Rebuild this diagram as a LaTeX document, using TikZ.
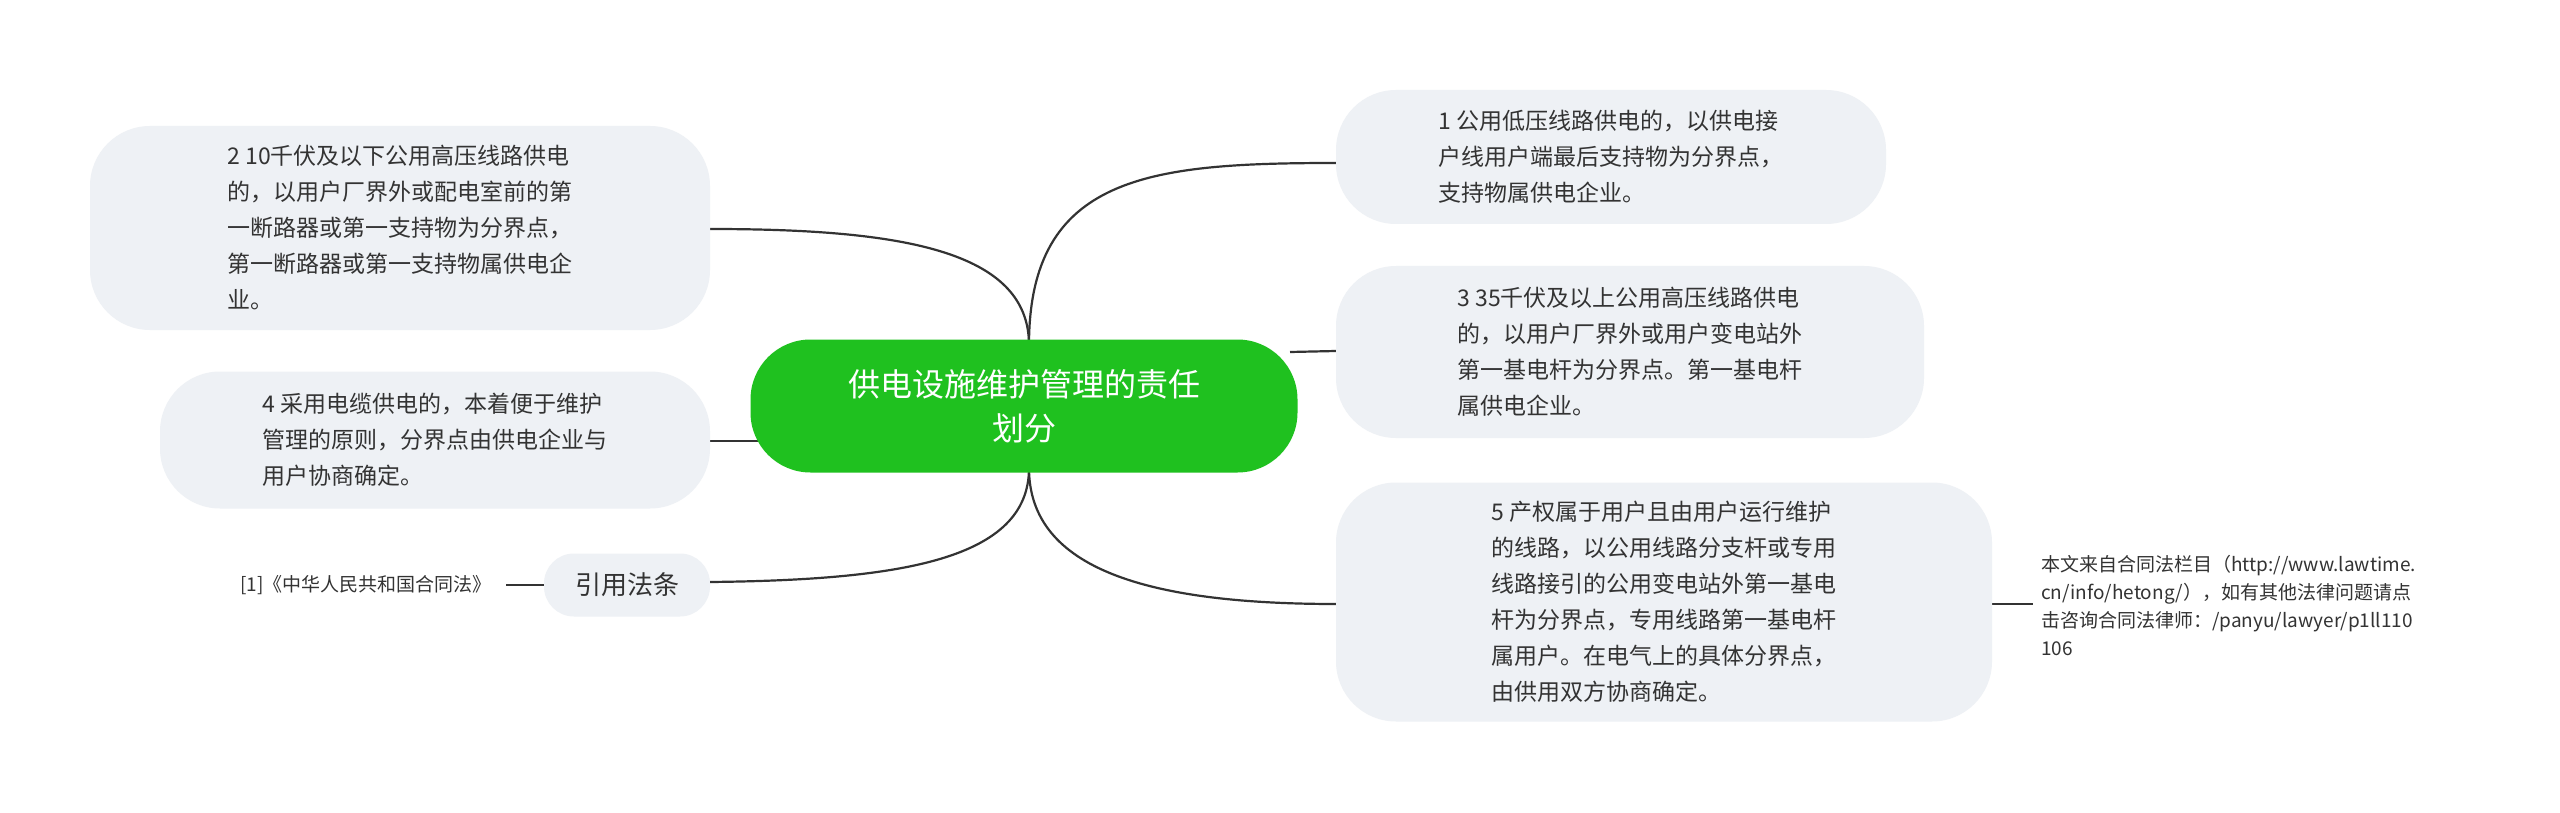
\documentclass[tikz,border=0pt]{standalone}
\usepackage{fontspec}
\setmainfont{Noto Sans CJK SC}
\begin{document}
\begin{tikzpicture}[x=1pt,y=-1pt,
  box/.style={fill=boxc,rounded corners=60pt,inner sep=0pt,text=txt,font=\fontsize{23}{36}\selectfont,align=left},
  conn/.style={draw=linec,line width=2.2pt}]
\definecolor{boxc}{HTML}{EEF1F5}
\definecolor{txt}{HTML}{333333}
\definecolor{linec}{HTML}{333333}
\definecolor{grn}{HTML}{1FC11F}
\useasboundingbox (0,0) rectangle (2560,813);
\fill[white] (0,0) rectangle (2560,813);
% connectors
\draw[conn] (1029,345) .. controls (1029,175) and (1150,163) .. (1336,163);
\draw[conn] (1029,345) .. controls (1029,250) and (900,229) .. (710,229);
\draw[conn] (1290,352) -- (1336,351);
\draw[conn] (765,441) -- (710,441);
\draw[conn] (1029,468) .. controls (1029,570) and (1150,604) .. (1336,604);
\draw[conn] (1029,468) .. controls (1029,560) and (900,580) .. (710,582);
\draw[conn] (1992,604) -- (2033,604);
\draw[conn] (506,585) -- (544,585);
% center
\node[fill=grn,rounded corners=60pt,minimum width=547pt,minimum height=133pt,text=white,font=\fontsize{32}{44}\selectfont,align=center] (c) at (1024,406) {供电设施维护管理的责任\\划分};
\node[box,minimum width=550pt,minimum height=134pt] (n1) at (1611,157) {1 公用低压线路供电的，以供电接\\户线用户端最后支持物为分界点，\\支持物属供电企业。};
\node[box,minimum width=588pt,minimum height=172pt] (n3) at (1630,352) {3 35千伏及以上公用高压线路供电\\的，以用户厂界外或用户变电站外\\第一基电杆为分界点。第一基电杆\\属供电企业。};
\node[box,minimum width=656pt,minimum height=239pt] (n5) at (1664,602) {5 产权属于用户且由用户运行维护\\的线路，以公用线路分支杆或专用\\线路接引的公用变电站外第一基电\\杆为分界点，专用线路第一基电杆\\属用户。在电气上的具体分界点，\\由供用双方协商确定。};
\node[box,minimum width=620pt,minimum height=204pt] (n2) at (400,228) {2 10千伏及以下公用高压线路供电\\的，以用户厂界外或配电室前的第\\一断路器或第一支持物为分界点，\\第一断路器或第一支持物属供电企\\业。};
\node[box,minimum width=550pt,minimum height=137pt] (n4) at (435,440) {4 采用电缆供电的，本着便于维护\\管理的原则，分界点由供电企业与\\用户协商确定。};
\node[box,rounded corners=30pt,minimum width=166pt,minimum height=63pt,font=\fontsize{26}{30}\selectfont] (law) at (627,585) {引用法条};
\node[anchor=east,text=txt,font=\fontsize{19}{24}\selectfont,inner sep=0pt] (ref) at (492,585) {[1]《中华人民共和国合同法》};
\node[anchor=west,text=txt,font=\fontsize{19}{28}\selectfont,align=left,inner sep=0pt] (src) at (2041,605) {本文来自合同法栏目（http://www.lawtime.\\cn/info/hetong/），如有其他法律问题请点\\击咨询合同法律师：/panyu/lawyer/p1ll110\\106};
\end{tikzpicture}
\end{document}
